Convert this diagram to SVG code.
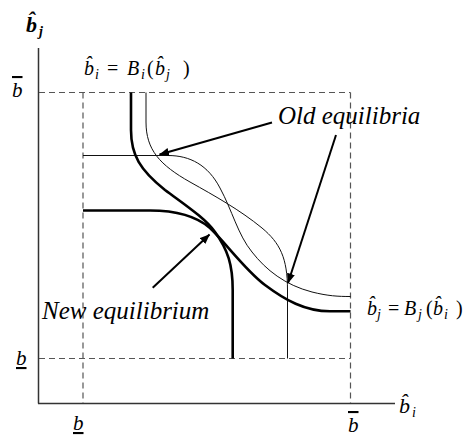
<svg xmlns="http://www.w3.org/2000/svg" width="474" height="439" viewBox="0 0 474 439">
<style>
.ax{stroke:#333;stroke-width:1.5;fill:none}
.dash{stroke:#555;stroke-width:1.2;stroke-dasharray:6 4;fill:none}
.thin{stroke:#111;stroke-width:1;fill:none}
.thick{stroke:#000;stroke-width:2.6;fill:none}
.arr{stroke:#000;stroke-width:2;fill:none;marker-end:url(#ah)}
text{font-family:"Liberation Serif","Times New Roman",serif;fill:#000;font-style:italic}
.up{font-style:normal}
.sub{font-size:14px}
.f{font-size:20px}
.lab{font-size:25px}
.bnd{font-size:21px}
</style>
<defs>
<marker id="ah" markerUnits="userSpaceOnUse" markerWidth="10" markerHeight="8" refX="9.5" refY="4" orient="auto">
<path d="M0,0 L10,4 L0,8 z" fill="#000"/>
</marker>
</defs>
<g id="axes">
<line class="ax" x1="38.5" y1="48" x2="38.5" y2="403.5"/>
<line class="ax" x1="38" y1="403.5" x2="395" y2="403.5"/>
</g>
<g id="bounds">
<line class="dash" x1="39" y1="92.5" x2="350.5" y2="92.5"/>
<line class="dash" x1="350.5" y1="92.5" x2="350.5" y2="403"/>
<line class="dash" x1="83" y1="92.5" x2="83" y2="403"/>
<line class="dash" x1="39" y1="358.5" x2="350.5" y2="358.5"/>
</g>
<g id="old-curves">
<path id="old-Bi" class="thin" d="M146,92.5 V122 C146,150 160,165 190,182 C215,196 240,210 262,228 C280,243 287.5,258 287.5,290 V358.5"/>
<path id="old-Bj" class="thin" d="M83,155.5 H168 C190,155.5 208,165 220,188 C232,210 238,235 252,252 C266,270 285,285 312,292 C328,296 338,296.5 350.5,296.5"/>
</g>
<g id="new-curves">
<path id="new-Bi" class="thick" d="M131,92.5 V130 C131,155 140,170 165,190 C185,205 205,218 215,232 C228,250 232.7,265 232.7,290 V358.5"/>
<path id="new-Bj" class="thick" d="M83,210.5 H150 C175,210.5 195,215 210,228 C225,242 245,270 265,285 C285,300 305,311.3 330,311.3 H350.5"/>
</g>
<g id="connectors">
<line class="arr" x1="272" y1="122.5" x2="159.5" y2="154.5"/>
<line class="arr" x1="336" y1="135" x2="288" y2="283"/>
<line class="arr" x1="152.7" y1="287.7" x2="209.5" y2="234.5"/>
</g>
<g id="axis-labels">
<text x="26" y="31.5" font-size="22" font-weight="bold">b&#x302;<tspan class="sub" x="39" y="35.5">j</tspan></text>
<text x="399" y="413" font-size="22">b&#x302;<tspan class="sub" x="412" y="417">i</tspan></text>
<text class="bnd" x="12" y="97" text-decoration="overline">b</text>
<text class="bnd" x="16" y="365" text-decoration="underline">b</text>
<text class="bnd" x="73" y="430" text-decoration="underline">b</text>
<text class="bnd" x="348" y="432" text-decoration="overline">b</text>
</g>
<g id="curve-labels">
<text class="f" x="84" y="75">b&#x302;<tspan class="sub" x="95" y="79">i</tspan><tspan class="up" x="107" y="75">=</tspan><tspan x="127" y="75">B</tspan><tspan class="sub" x="141" y="79">i</tspan><tspan class="up" x="147" y="75">(</tspan><tspan x="155" y="75">b&#x302;</tspan><tspan class="sub" x="166" y="79">j</tspan><tspan class="up" x="183" y="75">)</tspan></text>
<text class="f" x="367" y="315">b&#x302;<tspan class="sub" x="377" y="319">j</tspan><tspan class="up" x="388" y="315">=</tspan><tspan x="404" y="315">B</tspan><tspan class="sub" x="418" y="319">j</tspan><tspan class="up" x="426" y="315">(</tspan><tspan x="433" y="315">b&#x302;</tspan><tspan class="sub" x="444" y="319">i</tspan><tspan class="up" x="456" y="315">)</tspan></text>
</g>
<g id="annotations">
<text class="lab" x="278" y="124">Old equilibria</text>
<text class="lab" x="42" y="319">New equilibrium</text>
</g>
</svg>
